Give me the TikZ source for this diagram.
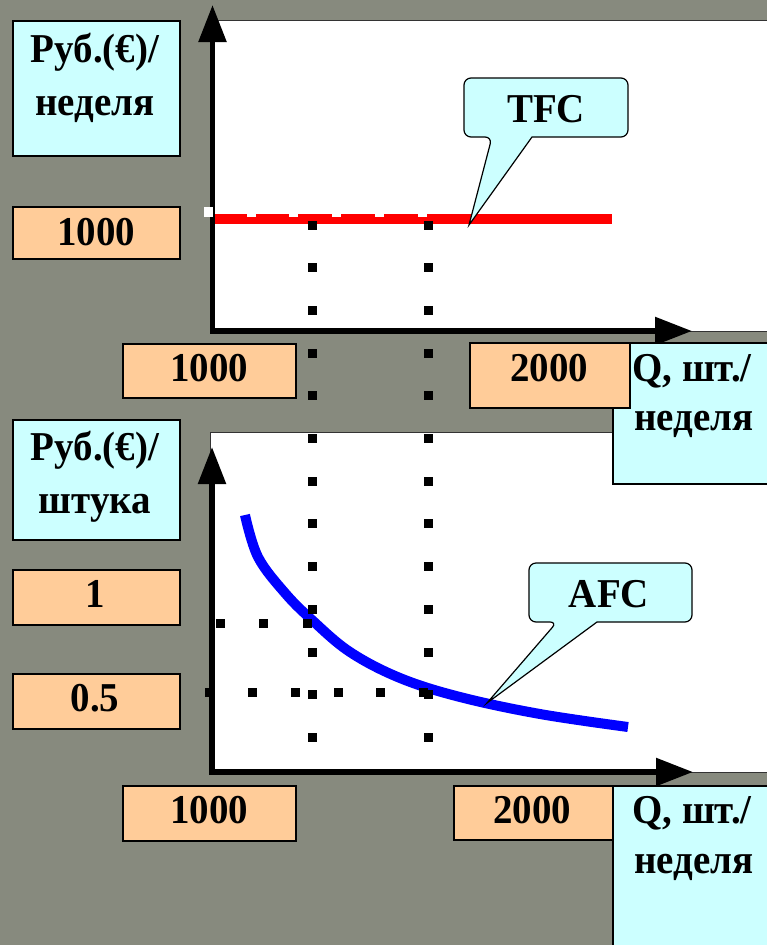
\documentclass[tikz,border=0pt]{standalone}
\usepackage{fontspec}
\setmainfont{Liberation Serif}[FakeStretch=0.95]
\usetikzlibrary{arrows.meta}
\definecolor{bg}{RGB}{135,138,126}
\definecolor{lcyan}{HTML}{CCFFFF}
\definecolor{lorange}{HTML}{FFCC99}
\begin{document}
\begin{tikzpicture}[x=1pt,y=-1pt,
  lab/.style={font=\fontsize{41}{49}\selectfont\bfseries, inner sep=0pt, anchor=base},
  box/.style={draw=black, line width=1.5pt, inner sep=0pt, anchor=north west},
  cbox/.style={box, fill=lcyan},
  obox/.style={box, fill=lorange},
  panel/.style={fill=white, draw=black!80, line width=0.8pt},
  axis/.style={line width=5.5pt, -{Triangle[length=37pt,width=27pt]}},
  callout/.style={draw=black, line width=1.2pt, fill=lcyan},
]
% background
\fill[bg] (0,0) rectangle (767,945);
\useasboundingbox (0,0) rectangle (767,945);

% panels
\draw[panel] (213,20) rectangle (772,331);
\draw[panel] (210,432) rectangle (772,772);

% curves
\coordinate (tfcA) at (212,219);
\coordinate (tfcB) at (612,219);
\draw[red, line width=10pt] (tfcA) -- (tfcB);
\draw[blue, line width=10pt] plot[smooth, tension=0.6] coordinates
  {(245,515) (258,557) (285,593) (312,620) (350,652) (400,678) (460,697) (540,714) (628,727)};

% axes
\coordinate (o1) at (212.5,333.7);
\coordinate (y1) at (212.5,5);
\coordinate (x1) at (692,331);
\coordinate (o1b) at (210,331);
\draw[axis] (o1) -- (y1);
\draw[axis] (o1b) -- (x1);
\coordinate (o2) at (212,774.7);
\coordinate (y2) at (212,447);
\coordinate (x2) at (693,772);
\coordinate (o2b) at (209.5,772);
\draw[axis] (o2) -- (y2);
\draw[axis] (o2b) -- (x2);

% label boxes
\node[cbox, minimum width=167pt, minimum height=135pt] (ylab1) at (12,20) {};
\node[obox, minimum width=167pt, minimum height=52pt] (yv1000) at (12,206) {};
\node[cbox, minimum width=160pt, minimum height=141pt] (qlab1) at (612,342) {};
\node[obox, minimum width=173pt, minimum height=54pt] (xa1000) at (122,343) {};
\node[obox, minimum width=160pt, minimum height=65pt] (xa2000) at (469,342) {};
\node[cbox, minimum width=167pt, minimum height=120pt] (ylab2) at (12,419) {};
\node[obox, minimum width=167pt, minimum height=55pt] (yv1) at (12,569) {};
\node[obox, minimum width=167pt, minimum height=55pt] (yv05) at (12,673) {};
\node[cbox, minimum width=160pt, minimum height=170pt] (qlab2) at (612,785) {};
\node[obox, minimum width=173pt, minimum height=55pt] (xb1000) at (122,785) {};
\node[obox, minimum width=159pt, minimum height=54pt] (xb2000) at (453,785) {};

% callouts
\coordinate (tfctip) at (469,225);
\draw[callout] (492,137) [sharp corners] -- (tfctip) -- (532,137) [rounded corners=7pt] -- (628,137) -- (628,78) -- (464,78) -- (464,137) -- cycle;
\coordinate (afctip) at (487,703);
\draw[callout] (557,622) [sharp corners] -- (afctip) -- (597,622) [rounded corners=7pt] -- (692,622) -- (692,563) -- (529,563) -- (529,622) -- cycle;

% white dotted guide on TFC
\foreach \k in {0,...,5} {
  \fill[white] ({208.5+42.7*\k-4.5},207) rectangle ++(9,10);
}
% black dotted guides
\foreach \k in {0,...,12} {
  \fill ({312.5-4.5},{225+42.7*\k-4.5}) rectangle ++(9,9);
  \fill ({428.5-4.5},{225+42.7*\k-4.5}) rectangle ++(9,9);
}
\foreach \xx in {220,263,307} {
  \fill ({\xx-4.5},{623-4.5}) rectangle ++(9,9);
}
\foreach \xx in {209,252,295,338,380,423} {
  \fill ({\xx-4.5},{692-4.5}) rectangle ++(9,9);
}

% texts
\node[lab] (t1a) at (95,62) {Руб.(€)/};
\node[lab] (t1b) at (95,115) {неделя};
\node[lab] (t2) at (96,245) {1000};
\node[lab] (t3) at (209,381) {1000};
\node[lab] (t4) at (549,381) {2000};
\node[lab] (t5a) at (692,381) {Q, шт./};
\node[lab] (t5b) at (694,430) {неделя};
\node[lab] (t6a) at (95,460) {Руб.(€)/};
\node[lab] (t6b) at (95,513) {штука};
\node[lab] (t7) at (95,607) {1};
\node[lab] (t8) at (95,711) {0.5};
\node[lab] (t9) at (209,823) {1000};
\node[lab] (t10) at (532,823) {2000};
\node[lab] (t11a) at (692,823) {Q, шт./};
\node[lab] (t11b) at (694,873) {неделя};
\node[lab] (tfc) at (546,122) {TFC};
\node[lab] (afc) at (609,607) {AFC};
\end{tikzpicture}
\end{document}
